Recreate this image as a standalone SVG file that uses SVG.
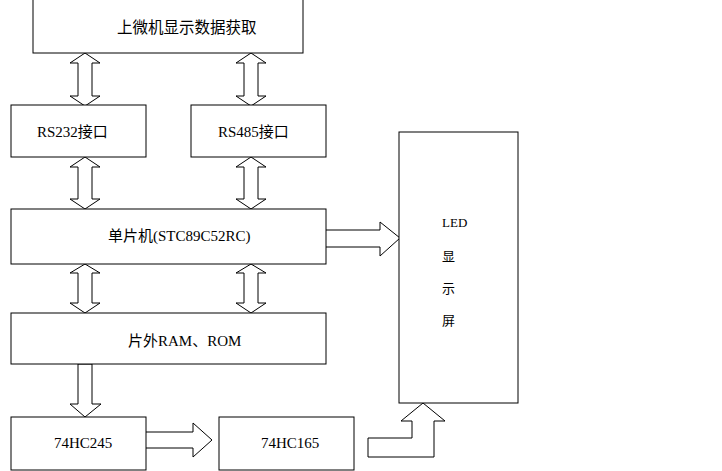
<svg xmlns="http://www.w3.org/2000/svg" width="722" height="471" viewBox="0 0 722 471">
<style>
.box{fill:#fff;stroke:#000;stroke-width:1}
.arr{fill:#fff;stroke:#000;stroke-width:1;stroke-linejoin:miter}
text{font-family:"Liberation Serif","Noto Sans CJK SC",serif;font-size:15px;fill:#000}
.sm{font-size:13px}
</style>
<rect width="722" height="471" fill="#fff"/>
<g id="connectors">
<path class="arr" d="M85,53 L100,63 L92,63 L92,96 L100,96 L85,106 L70,96 L78,96 L78,63 L70,63 Z"/>
<path class="arr" d="M251,53 L266,63 L258,63 L258,96 L266,96 L251,106 L236,96 L244,96 L244,63 L236,63 Z"/>
<path class="arr" d="M85,157 L100,167 L92,167 L92,199 L100,199 L85,209 L70,199 L78,199 L78,167 L70,167 Z"/>
<path class="arr" d="M251,157 L266,167 L258,167 L258,199 L266,199 L251,209 L236,199 L244,199 L244,167 L236,167 Z"/>
<path class="arr" d="M85,264 L100,273 L92,273 L92,303 L100,303 L85,313 L70,303 L78,303 L78,273 L70,273 Z"/>
<path class="arr" d="M251,264 L266,273 L258,273 L258,303 L266,303 L251,313 L236,303 L244,303 L244,273 L236,273 Z"/>
<path class="arr" d="M78,364 L92,364 L92,404 L101,404 L85,417 L70,404 L78,404 Z"/>
<path class="arr" d="M143,432 L193,432 L193,423 L212,440 L193,457 L193,448 L143,448 Z"/>
<path class="arr" d="M324,230 L380,230 L380,222 L400,238 L380,256 L380,247 L324,247 Z"/>
<path class="arr" d="M368,438 L412,438 L412,421 L401,421 L423,403 L445,421 L434,421 L434,457 L368,457 Z"/>
</g>
<g id="n_top"><rect class="box" x="33" y="-1" width="270" height="54"/><text x="117" y="33" style="font-size:15.5px">上微机显示数据获取</text></g>
<g id="n_rs232"><rect class="box" x="11" y="105" width="135" height="52"/><text x="37" y="137">RS232接口</text></g>
<g id="n_rs485"><rect class="box" x="191" y="105" width="135" height="52"/><text x="218" y="137">RS485接口</text></g>
<g id="n_mcu"><rect class="box" x="11" y="209" width="315" height="55"/><text x="108" y="241">单片机(STC89C52RC)</text></g>
<g id="n_ram"><rect class="box" x="11" y="313" width="315" height="51"/><text x="128" y="346">片外RAM、ROM</text></g>
<g id="n_245"><rect class="box" x="11" y="417" width="135" height="53"/><text x="54" y="448">74HC245</text></g>
<g id="n_165"><rect class="box" x="219" y="417" width="135" height="53"/><text x="261" y="448">74HC165</text></g>
<g id="n_led"><rect class="box" x="399" y="132" width="119" height="271"/>
<text class="sm" x="442" y="227">LED</text>
<text class="sm" x="442" y="261">显</text>
<text class="sm" x="442" y="293">示</text>
<text class="sm" x="442" y="325">屏</text>
</g>
</svg>
